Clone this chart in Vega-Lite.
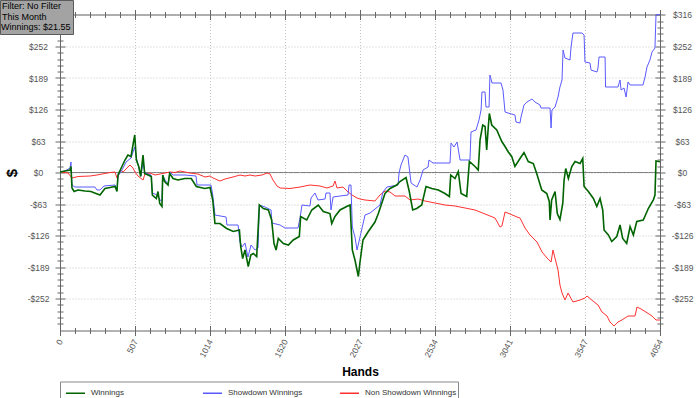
{
  "$schema": "https://vega.github.io/schema/vega-lite/v6.json",
  "width": 600,
  "height": 316,
  "autosize": "none",
  "padding": {"left": 60, "top": 14.5, "right": 40, "bottom": 67.5},
  "background": "white",
  "datasets": {
    "green": [{"h":0,"v":1},{"h":34,"v":3},{"h":68,"v":5},{"h":74,"v":12},{"h":81,"v":-31},{"h":95,"v":-38},{"h":122,"v":-35},{"h":169,"v":-37},{"h":209,"v":-38},{"h":243,"v":-42},{"h":270,"v":-45},{"h":304,"v":-32},{"h":338,"v":-30},{"h":372,"v":-28},{"h":385,"v":-38},{"h":392,"v":-5},{"h":412,"v":8},{"h":439,"v":25},{"h":459,"v":35},{"h":480,"v":32},{"h":493,"v":55},{"h":505,"v":75},{"h":516,"v":25},{"h":532,"v":12},{"h":545,"v":-8},{"h":561,"v":35},{"h":572,"v":-2},{"h":595,"v":-5},{"h":617,"v":-8},{"h":624,"v":-45},{"h":651,"v":-52},{"h":662,"v":-38},{"h":674,"v":-62},{"h":689,"v":-68},{"h":694,"v":-5},{"h":707,"v":-18},{"h":730,"v":-25},{"h":741,"v":-2},{"h":764,"v":-12},{"h":797,"v":-15},{"h":843,"v":-12},{"h":887,"v":-12},{"h":921,"v":-28},{"h":978,"v":-32},{"h":1014,"v":-30},{"h":1032,"v":-55},{"h":1047,"v":-102},{"h":1081,"v":-102},{"h":1126,"v":-112},{"h":1171,"v":-118},{"h":1212,"v":-115},{"h":1221,"v":-148},{"h":1234,"v":-172},{"h":1250,"v":-155},{"h":1272,"v":-188},{"h":1289,"v":-165},{"h":1306,"v":-162},{"h":1329,"v":-168},{"h":1347,"v":-65},{"h":1374,"v":-72},{"h":1408,"v":-75},{"h":1430,"v":-95},{"h":1446,"v":-142},{"h":1460,"v":-155},{"h":1475,"v":-132},{"h":1509,"v":-142},{"h":1543,"v":-145},{"h":1576,"v":-135},{"h":1617,"v":-128},{"h":1626,"v":-88},{"h":1667,"v":-95},{"h":1701,"v":-75},{"h":1745,"v":-65},{"h":1779,"v":-78},{"h":1824,"v":-82},{"h":1836,"v":-102},{"h":1858,"v":-88},{"h":1892,"v":-75},{"h":1937,"v":-68},{"h":1960,"v":-65},{"h":1975,"v":-155},{"h":1993,"v":-175},{"h":2016,"v":-208},{"h":2027,"v":-179},{"h":2047,"v":-135},{"h":2081,"v":-119},{"h":2128,"v":-99},{"h":2151,"v":-82},{"h":2196,"v":-42},{"h":2230,"v":-32},{"h":2275,"v":-25},{"h":2297,"v":-18},{"h":2338,"v":-10},{"h":2360,"v":-38},{"h":2383,"v":-75},{"h":2410,"v":-72},{"h":2444,"v":-65},{"h":2473,"v":-28},{"h":2512,"v":-32},{"h":2556,"v":-35},{"h":2601,"v":-42},{"h":2631,"v":-48},{"h":2640,"v":-5},{"h":2669,"v":-12},{"h":2691,"v":2},{"h":2710,"v":-42},{"h":2748,"v":-48},{"h":2766,"v":22},{"h":2804,"v":12},{"h":2826,"v":5},{"h":2838,"v":65},{"h":2856,"v":95},{"h":2872,"v":92},{"h":2883,"v":45},{"h":2894,"v":92},{"h":2901,"v":118},{"h":2917,"v":95},{"h":2951,"v":85},{"h":2985,"v":62},{"h":3007,"v":52},{"h":3029,"v":41},{"h":3052,"v":32},{"h":3074,"v":12},{"h":3108,"v":28},{"h":3135,"v":40},{"h":3164,"v":22},{"h":3198,"v":18},{"h":3221,"v":-2},{"h":3255,"v":-35},{"h":3289,"v":-42},{"h":3306,"v":-58},{"h":3311,"v":-95},{"h":3322,"v":-55},{"h":3345,"v":-38},{"h":3360,"v":-82},{"h":3378,"v":-94},{"h":3397,"v":-62},{"h":3406,"v":-15},{"h":3417,"v":8},{"h":3435,"v":-12},{"h":3458,"v":12},{"h":3480,"v":22},{"h":3514,"v":18},{"h":3532,"v":28},{"h":3541,"v":-28},{"h":3570,"v":-38},{"h":3604,"v":-52},{"h":3627,"v":-68},{"h":3649,"v":-52},{"h":3667,"v":-75},{"h":3676,"v":-115},{"h":3705,"v":-125},{"h":3728,"v":-138},{"h":3762,"v":-128},{"h":3784,"v":-105},{"h":3802,"v":-132},{"h":3829,"v":-142},{"h":3852,"v":-108},{"h":3874,"v":-125},{"h":3897,"v":-98},{"h":3941,"v":-95},{"h":3975,"v":-72},{"h":4009,"v":-55},{"h":4020,"v":-45},{"h":4027,"v":23},{"h":4054,"v":21.55}],
    "blue": [{"h":0,"v":1},{"h":34,"v":3},{"h":68,"v":9},{"h":74,"v":21},{"h":81,"v":-25},{"h":101,"v":-29},{"h":169,"v":-29},{"h":236,"v":-29},{"h":250,"v":-35},{"h":270,"v":-35},{"h":297,"v":-27},{"h":372,"v":-25},{"h":385,"v":-35},{"h":392,"v":-7},{"h":419,"v":5},{"h":446,"v":21},{"h":480,"v":29},{"h":505,"v":51},{"h":516,"v":29},{"h":534,"v":9},{"h":547,"v":-7},{"h":561,"v":21},{"h":574,"v":-1},{"h":615,"v":-5},{"h":624,"v":-41},{"h":655,"v":-45},{"h":676,"v":-55},{"h":689,"v":-57},{"h":694,"v":-5},{"h":709,"v":-15},{"h":730,"v":-23},{"h":743,"v":1},{"h":764,"v":-5},{"h":845,"v":-5},{"h":919,"v":-7},{"h":926,"v":-25},{"h":1020,"v":-25},{"h":1032,"v":-45},{"h":1047,"v":-85},{"h":1122,"v":-89},{"h":1128,"v":-105},{"h":1203,"v":-105},{"h":1216,"v":-139},{"h":1230,"v":-149},{"h":1250,"v":-141},{"h":1270,"v":-169},{"h":1291,"v":-145},{"h":1318,"v":-155},{"h":1338,"v":-151},{"h":1347,"v":-65},{"h":1385,"v":-69},{"h":1426,"v":-75},{"h":1432,"v":-101},{"h":1487,"v":-105},{"h":1520,"v":-111},{"h":1608,"v":-111},{"h":1622,"v":-91},{"h":1635,"v":-65},{"h":1689,"v":-67},{"h":1696,"v":-51},{"h":1723,"v":-41},{"h":1743,"v":-55},{"h":1791,"v":-53},{"h":1797,"v":-41},{"h":1824,"v":-41},{"h":1831,"v":-75},{"h":1845,"v":-49},{"h":1892,"v":-47},{"h":1946,"v":-45},{"h":1953,"v":-25},{"h":1966,"v":-25},{"h":1975,"v":-109},{"h":1993,"v":-129},{"h":2007,"v":-155},{"h":2041,"v":-111},{"h":2061,"v":-85},{"h":2095,"v":-81},{"h":2162,"v":-65},{"h":2182,"v":-39},{"h":2209,"v":-29},{"h":2284,"v":-25},{"h":2291,"v":-1},{"h":2304,"v":15},{"h":2331,"v":35},{"h":2351,"v":31},{"h":2372,"v":-21},{"h":2412,"v":-29},{"h":2433,"v":-15},{"h":2453,"v":5},{"h":2487,"v":11},{"h":2493,"v":25},{"h":2520,"v":19},{"h":2635,"v":19},{"h":2642,"v":59},{"h":2662,"v":51},{"h":2683,"v":61},{"h":2703,"v":25},{"h":2770,"v":25},{"h":2777,"v":81},{"h":2811,"v":85},{"h":2831,"v":105},{"h":2845,"v":125},{"h":2851,"v":161},{"h":2872,"v":161},{"h":2878,"v":131},{"h":2899,"v":131},{"h":2905,"v":195},{"h":2919,"v":179},{"h":2980,"v":179},{"h":2993,"v":165},{"h":3007,"v":121},{"h":3027,"v":119},{"h":3074,"v":115},{"h":3081,"v":101},{"h":3108,"v":99},{"h":3115,"v":111},{"h":3135,"v":135},{"h":3155,"v":141},{"h":3189,"v":147},{"h":3209,"v":141},{"h":3243,"v":135},{"h":3250,"v":129},{"h":3311,"v":129},{"h":3318,"v":89},{"h":3324,"v":125},{"h":3345,"v":131},{"h":3365,"v":151},{"h":3378,"v":171},{"h":3392,"v":185},{"h":3399,"v":245},{"h":3412,"v":229},{"h":3446,"v":225},{"h":3453,"v":251},{"h":3466,"v":279},{"h":3527,"v":279},{"h":3541,"v":275},{"h":3547,"v":221},{"h":3581,"v":219},{"h":3588,"v":205},{"h":3628,"v":201},{"h":3635,"v":209},{"h":3642,"v":231},{"h":3683,"v":231},{"h":3686,"v":171},{"h":3770,"v":171},{"h":3784,"v":185},{"h":3791,"v":165},{"h":3811,"v":169},{"h":3825,"v":151},{"h":3838,"v":181},{"h":3852,"v":175},{"h":3939,"v":175},{"h":3953,"v":191},{"h":3966,"v":211},{"h":3986,"v":225},{"h":4000,"v":241},{"h":4020,"v":249},{"h":4027,"v":315},{"h":4054,"v":316}],
    "red": [{"h":0,"v":1},{"h":54,"v":-1},{"h":81,"v":-11},{"h":122,"v":-8},{"h":203,"v":-7},{"h":250,"v":-5},{"h":284,"v":-3},{"h":338,"v":0},{"h":372,"v":1},{"h":385,"v":-11},{"h":412,"v":5},{"h":426,"v":1},{"h":473,"v":15},{"h":493,"v":9},{"h":507,"v":1},{"h":527,"v":-7},{"h":561,"v":-15},{"h":574,"v":-3},{"h":608,"v":-1},{"h":642,"v":-5},{"h":676,"v":-3},{"h":743,"v":1},{"h":777,"v":0},{"h":811,"v":3},{"h":878,"v":-1},{"h":932,"v":-3},{"h":980,"v":-9},{"h":1014,"v":-7},{"h":1034,"v":-11},{"h":1081,"v":-17},{"h":1115,"v":-13},{"h":1169,"v":-9},{"h":1216,"v":-5},{"h":1250,"v":-7},{"h":1284,"v":-5},{"h":1318,"v":-7},{"h":1365,"v":-5},{"h":1399,"v":-1},{"h":1419,"v":-3},{"h":1439,"v":-15},{"h":1466,"v":-27},{"h":1487,"v":-31},{"h":1554,"v":-32},{"h":1622,"v":-29},{"h":1689,"v":-25},{"h":1757,"v":-27},{"h":1804,"v":-31},{"h":1845,"v":-27},{"h":1858,"v":-17},{"h":1872,"v":-31},{"h":1912,"v":-29},{"h":1939,"v":-37},{"h":1973,"v":-45},{"h":2007,"v":-51},{"h":2027,"v":-53},{"h":2061,"v":-55},{"h":2128,"v":-57},{"h":2162,"v":-45},{"h":2196,"v":-37},{"h":2230,"v":-39},{"h":2264,"v":-47},{"h":2331,"v":-47},{"h":2365,"v":-55},{"h":2419,"v":-53},{"h":2466,"v":-57},{"h":2534,"v":-61},{"h":2601,"v":-65},{"h":2669,"v":-67},{"h":2737,"v":-71},{"h":2804,"v":-75},{"h":2872,"v":-83},{"h":2939,"v":-91},{"h":2973,"v":-109},{"h":2986,"v":-107},{"h":3007,"v":-79},{"h":3041,"v":-83},{"h":3088,"v":-89},{"h":3108,"v":-91},{"h":3142,"v":-111},{"h":3176,"v":-125},{"h":3223,"v":-139},{"h":3257,"v":-159},{"h":3291,"v":-171},{"h":3318,"v":-179},{"h":3331,"v":-155},{"h":3351,"v":-179},{"h":3365,"v":-195},{"h":3378,"v":-225},{"h":3392,"v":-241},{"h":3412,"v":-255},{"h":3433,"v":-241},{"h":3466,"v":-259},{"h":3514,"v":-255},{"h":3547,"v":-251},{"h":3561,"v":-247},{"h":3601,"v":-257},{"h":3635,"v":-265},{"h":3662,"v":-279},{"h":3696,"v":-287},{"h":3716,"v":-299},{"h":3743,"v":-307},{"h":3770,"v":-299},{"h":3797,"v":-295},{"h":3838,"v":-287},{"h":3885,"v":-287},{"h":3899,"v":-269},{"h":3926,"v":-273},{"h":3959,"v":-279},{"h":4000,"v":-287},{"h":4027,"v":-295},{"h":4054,"v":-295}]
  },
  "layer": [
    {
      "data": {"name": "green"},
      "mark": {"type": "line", "color": "#808080", "strokeWidth": 1},
      "encoding": {
        "x": {"field": "h", "type": "quantitative", "scale": {"domain": [0, 4054], "nice": false, "zero": false},
          "axis": {"orient": "top", "values": [0,101.35,202.7,304.05,405.4,506.75,608.1,709.45,810.8,912.15,1013.5,1114.85,1216.2,1317.55,1418.9,1520.25,1621.6,1722.95,1824.3,1925.65,2027,2128.35,2229.7,2331.05,2432.4,2533.75,2635.1,2736.45,2837.8,2939.15,3040.5,3141.85,3243.2,3344.55,3445.9,3547.25,3648.6,3749.95,3851.3,3952.65,4054],
            "labels": false, "grid": false, "title": null,
            "tickSize": {"condition": {"test": "abs(datum.value/506.75 - round(datum.value/506.75)) < 0.001", "value": 5}, "value": 3}}},
        "y": {"datum": 0, "type": "quantitative", "scale": {"domain": [-316, 316], "nice": false, "zero": false},
          "axis": {"orient": "right", "values": [-302.4,-289.8,-277.2,-264.6,-252,-239.4,-226.8,-214.2,-201.6,-189,-176.4,-163.8,-151.2,-138.6,-126,-113.4,-100.8,-88.2,-75.6,-63,-50.4,-37.8,-25.2,-12.6,0,12.6,25.2,37.8,50.4,63,75.6,88.2,100.8,113.4,126,138.6,151.2,163.8,176.4,189,201.6,214.2,226.8,239.4,252,264.6,277.2,289.8,302.4,316],
            "grid": false, "title": null, "labelAlign": "center", "labelPadding": 17, "labelBound": false, "labelOverlap": false, "labelFlush": false,
            "labelExpr": "(datum.value % 63 == 0 || datum.value == 316) ? (datum.value < 0 ? '-$' + abs(datum.value) : '$' + datum.value) : ''",
            "tickSize": {"condition": {"test": "datum.value % 63 == 0 || datum.value == 316", "value": 5}, "value": 3}}},
        "strokeDash": {"datum": "Winnings: $21.55", "scale": {"range": [[1, 0]]},
          "legend": {"title": ["Filter: No Filter", "This Month"], "orient": "none", "legendX": -60, "legendY": -14.5,
            "fillColor": "#a3a3a3", "strokeColor": "#5a5a5a", "padding": 2, "titleFont": "Liberation Sans", "titleFontSize": 9, "titleFontWeight": "normal", "titleColor": "#000", "titleLineHeight": 11, "titlePadding": 0,
            "labelFont": "Liberation Sans", "labelFontSize": 9, "labelColor": "#000", "labelOffset": -10, "symbolSize": 1, "symbolOpacity": 0, "symbolStrokeWidth": 0, "symbolType": "stroke"}}
      }
    },
    {
      "data": {"name": "red"},
      "mark": {"type": "line", "strokeWidth": 1},
      "encoding": {
        "x": {"field": "h", "type": "quantitative",
          "axis": {"orient": "top", "values": [0,101.35,202.7,304.05,405.4,506.75,608.1,709.45,810.8,912.15,1013.5,1114.85,1216.2,1317.55,1418.9,1520.25,1621.6,1722.95,1824.3,1925.65,2027,2128.35,2229.7,2331.05,2432.4,2533.75,2635.1,2736.45,2837.8,2939.15,3040.5,3141.85,3243.2,3344.55,3445.9,3547.25,3648.6,3749.95,3851.3,3952.65,4054],
            "labels": false, "grid": false, "domain": false, "title": null,
            "tickSize": {"condition": {"test": "abs(datum.value/506.75 - round(datum.value/506.75)) < 0.001", "value": -5}, "value": -3}}},
        "y": {"field": "v", "type": "quantitative",
          "axis": {"orient": "right", "values": [-302.4,-289.8,-277.2,-264.6,-252,-239.4,-226.8,-214.2,-201.6,-189,-176.4,-163.8,-151.2,-138.6,-126,-113.4,-100.8,-88.2,-75.6,-63,-50.4,-37.8,-25.2,-12.6,0,12.6,25.2,37.8,50.4,63,75.6,88.2,100.8,113.4,126,138.6,151.2,163.8,176.4,189,201.6,214.2,226.8,239.4,252,264.6,277.2,289.8,302.4,316],
            "labels": false, "grid": false, "domain": false, "title": null,
            "tickSize": {"condition": {"test": "datum.value % 63 == 0 || datum.value == 316", "value": -5}, "value": -3}}},
        "color": {"datum": "Non Showdown Winnings", "type": "nominal"}
      }
    },
    {
      "data": {"name": "blue"},
      "mark": {"type": "line", "strokeWidth": 1},
      "encoding": {
        "x": {"field": "h", "type": "quantitative",
          "axis": {"orient": "bottom", "values": [0,101.35,202.7,304.05,405.4,506.75,608.1,709.45,810.8,912.15,1013.5,1114.85,1216.2,1317.55,1418.9,1520.25,1621.6,1722.95,1824.3,1925.65,2027,2128.35,2229.7,2331.05,2432.4,2533.75,2635.1,2736.45,2837.8,2939.15,3040.5,3141.85,3243.2,3344.55,3445.9,3547.25,3648.6,3749.95,3851.3,3952.65,4054],
            "labels": false, "grid": false, "domain": false, "title": null,
            "tickSize": {"condition": {"test": "abs(datum.value/506.75 - round(datum.value/506.75)) < 0.001", "value": -5}, "value": -3}}},
        "y": {"field": "v", "type": "quantitative",
          "axis": {"orient": "left", "values": [-302.4,-289.8,-277.2,-264.6,-252,-239.4,-226.8,-214.2,-201.6,-189,-176.4,-163.8,-151.2,-138.6,-126,-113.4,-100.8,-88.2,-75.6,-63,-50.4,-37.8,-25.2,-12.6,0,12.6,25.2,37.8,50.4,63,75.6,88.2,100.8,113.4,126,138.6,151.2,163.8,176.4,189,201.6,214.2,226.8,239.4,252,264.6,277.2,289.8,302.4,316],
            "labels": false, "grid": false, "domain": false, "title": null,
            "tickSize": {"condition": {"test": "datum.value % 63 == 0 || datum.value == 316", "value": -5}, "value": -3}}},
        "color": {"datum": "Showdown Winnings", "type": "nominal"}
      }
    },
    {
      "data": {"name": "green"},
      "mark": {"type": "line", "strokeWidth": 1.6},
      "encoding": {
        "x": {"field": "h", "type": "quantitative",
          "axis": {"orient": "bottom", "values": [0,101.35,202.7,304.05,405.4,506.75,608.1,709.45,810.8,912.15,1013.5,1114.85,1216.2,1317.55,1418.9,1520.25,1621.6,1722.95,1824.3,1925.65,2027,2128.35,2229.7,2331.05,2432.4,2533.75,2635.1,2736.45,2837.8,2939.15,3040.5,3141.85,3243.2,3344.55,3445.9,3547.25,3648.6,3749.95,3851.3,3952.65,4054],
            "title": "Hands", "titleFontSize": 12, "titlePadding": 8, "labelAngle": -63, "labelPadding": 4, "labelBound": false, "labelOverlap": false, "labelFlush": false,
            "labelExpr": "abs(datum.value/506.75 - round(datum.value/506.75)) < 0.001 ? '' + round(datum.value) : ''",
            "grid": true,
            "gridOpacity": {"condition": {"test": "abs(datum.value/506.75 - round(datum.value/506.75)) < 0.001", "value": 1}, "value": 0},
            "tickSize": {"condition": {"test": "abs(datum.value/506.75 - round(datum.value/506.75)) < 0.001", "value": 5}, "value": 3}}},
        "y": {"field": "v", "type": "quantitative",
          "axis": {"orient": "left", "values": [-302.4,-289.8,-277.2,-264.6,-252,-239.4,-226.8,-214.2,-201.6,-189,-176.4,-163.8,-151.2,-138.6,-126,-113.4,-100.8,-88.2,-75.6,-63,-50.4,-37.8,-25.2,-12.6,0,12.6,25.2,37.8,50.4,63,75.6,88.2,100.8,113.4,126,138.6,151.2,163.8,176.4,189,201.6,214.2,226.8,239.4,252,264.6,277.2,289.8,302.4,316],
            "title": "$", "titleFontSize": 15, "titlePadding": 8, "labelAlign": "center", "labelPadding": 17, "labelBound": false, "labelOverlap": false, "labelFlush": false,
            "labelExpr": "(datum.value % 63 == 0) ? (datum.value < 0 ? '-$' + abs(datum.value) : '$' + datum.value) : ''",
            "grid": true,
            "gridOpacity": {"condition": {"test": "datum.value % 63 == 0 || datum.value == 316", "value": 1}, "value": 0},
            "tickSize": {"condition": {"test": "datum.value % 63 == 0 || datum.value == 316", "value": 5}, "value": 3}}},
        "color": {"datum": "Winnings", "type": "nominal",
          "scale": {"domain": ["Winnings", "Showdown Winnings", "Non Showdown Winnings"], "range": ["#006400", "#5a5aff", "#ff3030"]},
          "legend": {"orient": "none", "legendX": 0, "legendY": 367, "direction": "horizontal", "columns": 3, "gridAlign": "all", "columnPadding": 15, "title": null,
            "symbolType": "stroke", "symbolSize": 360, "symbolStrokeWidth": 1.5, "symbolOffset": 4, "labelFont": "Liberation Sans", "labelFontSize": 8, "labelColor": "#333", "labelOffset": 5,
            "strokeColor": "#888", "padding": 1}}
      }
    }
  ],
  "resolve": {"axis": {"x": "independent", "y": "independent"}},
  "config": {
    "view": {"stroke": null},
    "axis": {"domainColor": "#666", "tickColor": "#666", "labelColor": "#555", "labelFont": "Liberation Sans", "labelFontSize": 8.5, "titleFont": "Liberation Sans", "titleColor": "#000", "titleFontWeight": "bold", "gridColor": "#c4c4c4", "gridDash": [1, 2], "gridWidth": 1}
  }
}
